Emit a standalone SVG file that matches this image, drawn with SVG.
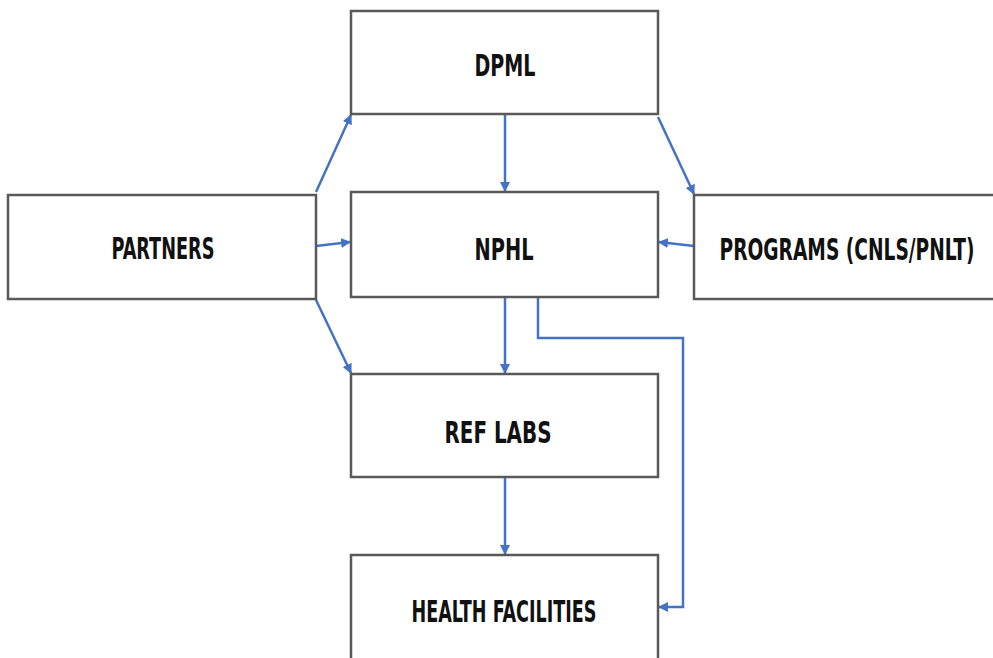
<svg xmlns="http://www.w3.org/2000/svg" width="993" height="658" viewBox="0 0 993 658">
<defs>
<style>
.box{fill:#fff;stroke:#595959;stroke-width:2.5}
.lbl{font-family:"DejaVu Sans Condensed","DejaVu Sans",sans-serif;font-stretch:condensed;font-weight:bold;font-size:30px;fill:#111;text-anchor:middle}
.c{fill:none;stroke:#4472C4;stroke-width:2.5}
</style>
<marker id="ah" viewBox="0 0 10 10" refX="9" refY="5" markerWidth="4" markerHeight="4" orient="auto" markerUnits="strokeWidth">
<path d="M0,0 L10,5 L0,10 z" fill="#4472C4"/>
</marker>
</defs>
<rect width="993" height="658" fill="#fff"/>
<g id="connectors">
<line class="c" x1="316" y1="192" x2="351" y2="115" marker-end="url(#ah)"/>
<line class="c" x1="316" y1="246" x2="350" y2="242" marker-end="url(#ah)"/>
<line class="c" x1="316" y1="300" x2="351" y2="373" marker-end="url(#ah)"/>
<line class="c" x1="505" y1="115" x2="505" y2="191" marker-end="url(#ah)"/>
<line class="c" x1="658" y1="117" x2="694" y2="194" marker-end="url(#ah)"/>
<line class="c" x1="694" y1="246" x2="659" y2="242" marker-end="url(#ah)"/>
<line class="c" x1="505" y1="298" x2="505" y2="373" marker-end="url(#ah)"/>
<line class="c" x1="505" y1="478" x2="505" y2="554" marker-end="url(#ah)"/>
<polyline class="c" points="538,298 538,338 683,338 683,607 659,607" marker-end="url(#ah)"/>
</g>
<g id="dpml"><rect class="box" x="351" y="11" width="307" height="103"/><text class="lbl" x="505" y="76" textLength="61" lengthAdjust="spacingAndGlyphs">DPML</text></g>
<g id="partners"><rect class="box" x="8" y="195" width="308" height="104"/><text class="lbl" x="163" y="259" textLength="103" lengthAdjust="spacingAndGlyphs">PARTNERS</text></g>
<g id="nphl"><rect class="box" x="351" y="192" width="307" height="105"/><text class="lbl" x="504" y="260" textLength="59" lengthAdjust="spacingAndGlyphs">NPHL</text></g>
<g id="programs"><rect class="box" x="694" y="195" width="305" height="104"/><text class="lbl" x="847" y="260" textLength="255" lengthAdjust="spacingAndGlyphs">PROGRAMS (CNLS/PNLT)</text></g>
<g id="reflabs"><rect class="box" x="351" y="374" width="307" height="103"/><text class="lbl" x="498" y="443" textLength="107" lengthAdjust="spacingAndGlyphs">REF LABS</text></g>
<g id="health"><rect class="box" x="351" y="555" width="307" height="110"/><text class="lbl" x="504" y="622" textLength="185" lengthAdjust="spacingAndGlyphs">HEALTH FACILITIES</text></g>
</svg>
